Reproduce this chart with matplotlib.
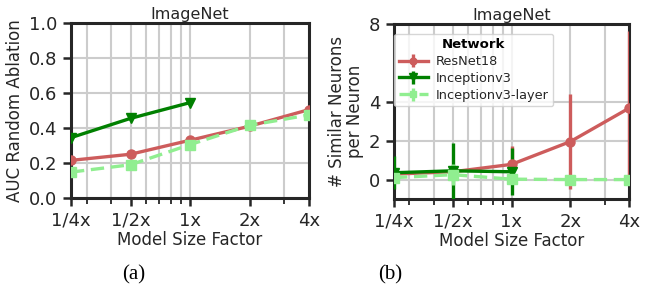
import matplotlib
matplotlib.use("Agg")
import matplotlib.pyplot as plt
import numpy as np

plt.rcParams['font.family'] = ['DejaVu Sans']

sizes = [0.25, 0.5, 1, 2, 4]
size_labels = ['1/4x', '1/2x', '1x', '2x', '4x']
incep_sizes = [0.25, 0.5, 1]

# Panel (a): AUC random ablation
auc_resnet = [0.215, 0.25, 0.33, 0.41, 0.505]
auc_incep = [0.345, 0.455, 0.545]
auc_layer = [0.148, 0.19, 0.305, 0.415, 0.475]

# Panel (b): similar neurons per neuron (mean, std)
sim_resnet = [0.28, 0.40, 0.78, 1.95, 3.67]
sim_resnet_err = [0.3, 0.35, 0.95, 2.43, 3.95]
sim_incep = [0.35, 0.45, 0.40]
sim_incep_err = [0.85, 1.45, 1.2]
sim_layer = [0.10, 0.25, 0.02, 0.0, 0.0]
sim_layer_err = [0.15, 0.55, 0.1, 0.05, 0.05]

c_res = '#CD5C5C'
c_inc = '#008000'
c_lay = '#90EE90'

fig = plt.figure(figsize=(6.48, 2.98), dpi=100)
ax1 = fig.add_axes([71/648, 1-198/298, (309-71)/648, 175/298])
ax2 = fig.add_axes([394/648, 1-199/298, (629-394)/648, 175/298])

def style(ax):
    ax.set_xscale('log')
    ax.set_xlim(0.25, 4)
    ax.grid(True, which='both', axis='x', color='#cccccc', lw=1.5)
    ax.grid(True, which='major', axis='y', color='#cccccc', lw=1.5)
    ax.set_axisbelow(True)
    ax.set_xticks(sizes)
    ax.set_xticklabels(size_labels)
    for s in ax.spines.values():
        s.set_linewidth(2.2)
        s.set_color('#262626')
    ax.tick_params(which='major', length=6, width=1.8, labelsize=13, colors='#262626', pad=4)
    ax.tick_params(which='minor', length=4, width=1.3, colors='#262626')
    ax.tick_params(axis='x', which='minor', labelbottom=False)
    ax.set_xlabel('Model Size Factor', fontsize=12, color='#262626', labelpad=1)
    ax.set_title('ImageNet', fontsize=11.5, color='#262626', pad=3)

lw = 2.4
ms = 6.5

ax1.plot(sizes, auc_resnet, color=c_res, lw=lw, marker='o', ms=ms, label='ResNet18', zorder=3)
ax1.plot(incep_sizes, auc_incep, color=c_inc, lw=lw, marker='v', ms=ms + 0.5, label='Inceptionv3', zorder=3)
ax1.plot(sizes, auc_layer, color=c_lay, lw=lw, marker='s', ms=ms, ls=(0, (4, 2)), label='Inceptionv3-layer', zorder=3)
style(ax1)
ax1.set_ylim(0, 1.0)
ax1.set_yticks([0, 0.2, 0.4, 0.6, 0.8, 1.0])
ax1.set_ylabel('AUC Random Ablation', fontsize=12, color='#262626', labelpad=3)

h1 = ax2.errorbar(sizes, sim_resnet, yerr=sim_resnet_err, color=c_res, lw=lw, elinewidth=2.4,
                  marker='o', ms=ms, label='ResNet18', zorder=3)
h2 = ax2.errorbar(incep_sizes, sim_incep, yerr=sim_incep_err, color=c_inc, lw=lw, elinewidth=2.4,
                  marker='v', ms=ms + 0.5, label='Inceptionv3', zorder=3)
h3 = ax2.errorbar(sizes, sim_layer, yerr=sim_layer_err, color=c_lay, lw=lw, elinewidth=2.4,
                  marker='s', ms=ms, ls=(0, (4, 2)), label='Inceptionv3-layer', zorder=3)
style(ax2)
ax2.set_ylim(-1, 8)
ax2.set_yticks([0, 2, 4, 8])
ax2.set_ylabel('# Similar Neurons\nper Neuron', fontsize=12, color='#262626', labelpad=3, linespacing=1.0)
leg = ax2.legend(loc='upper left', fontsize=9.3, title='Network', title_fontproperties={'weight': 'bold', 'size': 9.5},
                 frameon=True, framealpha=0.8, edgecolor='#cccccc', borderpad=0.35, labelspacing=0.3,
                 handlelength=2.3, handletextpad=0.6, markerscale=0.75, borderaxespad=0.0,
                 bbox_to_anchor=(0.0, 0.945))
leg.set_zorder(5)
for t in leg.get_texts():
    t.set_color('#262626')

fig.text(134/648, 1-275/298, '(a)', fontsize=15, family='Liberation Serif', ha='center', va='center')
fig.text(390/648, 1-275/298, '(b)', fontsize=15, family='Liberation Serif', ha='center', va='center')

fig.savefig('out.png', dpi=100)
